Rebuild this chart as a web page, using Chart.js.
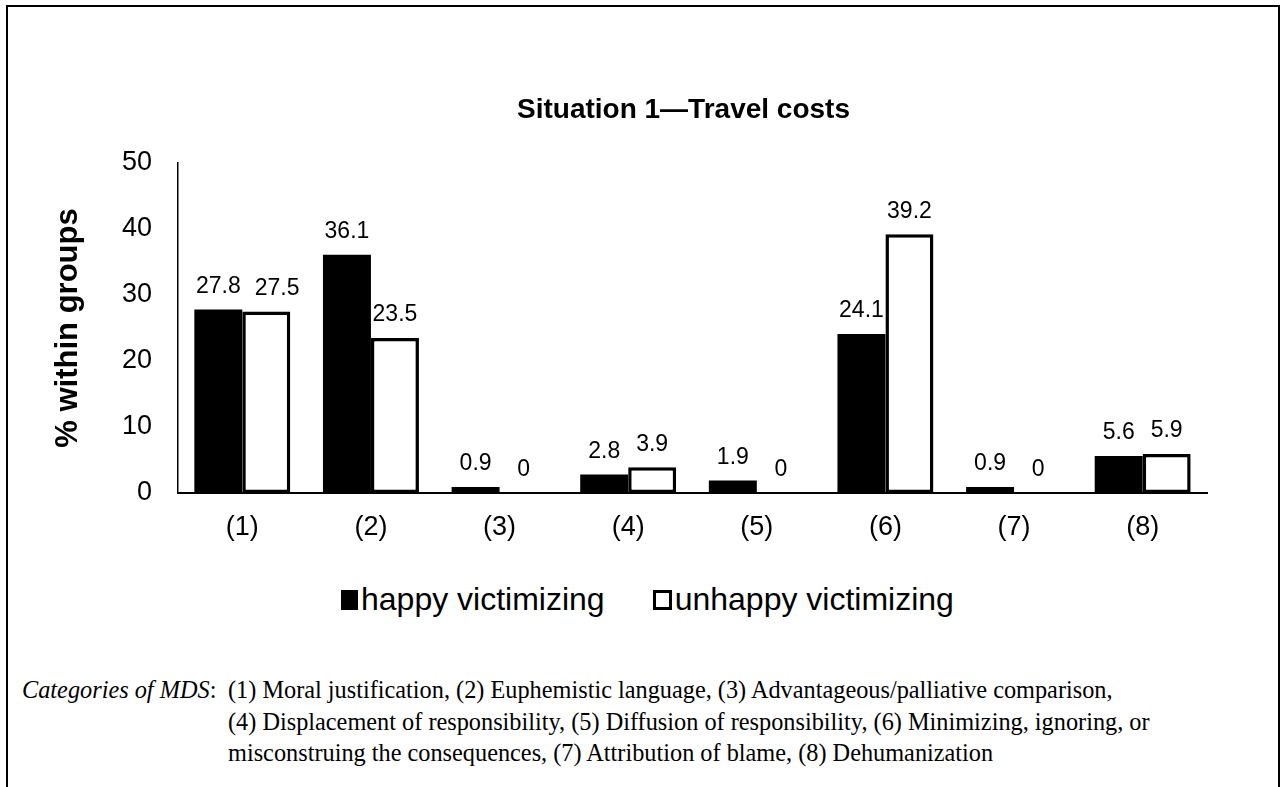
<!DOCTYPE html>
<html>
<head>
<meta charset="utf-8">
<script src="https://cdn.jsdelivr.net/npm/chart.js@4.4.1/dist/chart.umd.min.js"></script>
<style>
    body { margin: 0; background: #fff; overflow: hidden; font-family: "Liberation Sans", Arial, sans-serif; }
    #frame { position: absolute; left: 6px; top: 5px; width: 1274px; height: 900px; border: 2px solid #000; box-sizing: border-box; }
    #chartBox { position: absolute; left: 0; top: 0; width: 1285px; height: 560px; }
    #legend { position: absolute; left: 341px; top: 581px; display: flex; align-items: center; font-size: 32px; color: #000; }
    #legend .item { display: flex; align-items: center; margin-right: 48px; }
    #legend .box { box-sizing: border-box; width: 17px; height: 20px; margin-right: 3px; }
    #caption { position: absolute; left: 22px; top: 674px; display: flex; font-family: "Liberation Serif", "Times New Roman", serif; font-size: 24.3px; line-height: 31.5px; color: #000; }
    #caption .lab { width: 206px; white-space: nowrap; }
    #caption .txt { white-space: nowrap; }
</style>
</head>
<body>
<div id="frame"></div>
<div id="chartBox"><canvas id="mdsChart" width="1285" height="560"></canvas></div>
<div id="legend"></div>
<div id="caption">
    <div class="lab"><i>Categories of MDS</i>:</div>
    <div class="txt">(1) Moral justification, (2) Euphemistic language, (3) Advantageous/palliative comparison,<br>(4) Displacement of responsibility, (5) Diffusion of responsibility, (6) Minimizing, ignoring, or<br>misconstruing the consequences, (7) Attribution of blame, (8) Dehumanization</div>
</div>

<script>
const chartTitle = 'Situation 1\u2014Travel costs';
const yAxisTitle = '% within groups';
const categories = ['(1)', '(2)', '(3)', '(4)', '(5)', '(6)', '(7)', '(8)'];
const seriesNames = ['happy victimizing', 'unhappy victimizing'];
const happyValues = [27.8, 36.1, 0.9, 2.8, 1.9, 24.1, 0.9, 5.6];
const unhappyValues = [27.5, 23.5, 0, 3.9, 0, 39.2, 0, 5.9];
const yMin = 0;
const yMax = 50;
const yStep = 10;

const fontFamily = '"Liberation Sans", Arial, sans-serif';

// title centred over the plot, as in the original figure
const titlePlugin = {
    id: 'figTitle',
    afterDraw(chart) {
        const ctx = chart.ctx;
        ctx.save();
        ctx.font = 'bold 28px ' + fontFamily;
        ctx.fillStyle = '#000';
        ctx.textAlign = 'center';
        ctx.textBaseline = 'middle';
        ctx.fillText(chartTitle, (chart.chartArea.left + chart.chartArea.right) / 2 - 9, 110);
        ctx.restore();
    }
};

// value labels above every bar; a label that would touch its neighbour is nudged right
const valueLabels = {
    id: 'valueLabels',
    afterDatasetsDraw(chart) {
        const ctx = chart.ctx;
        const gap = 14;
        ctx.save();
        ctx.font = '23px ' + fontFamily;
        ctx.fillStyle = '#000';
        ctx.textAlign = 'center';
        ctx.textBaseline = 'middle';
        const prev = [];
        chart.data.datasets.forEach((ds, i) => {
            chart.getDatasetMeta(i).data.forEach((bar, j) => {
                const txt = String(ds.data[j]);
                const w = ctx.measureText(txt).width;
                let x = bar.x;
                const y = bar.y - 23;
                const p = prev[j];
                if (p && Math.abs(p.y - y) < 24 && x - w / 2 < p.right + gap) {
                    x = p.right + gap + w / 2;
                }
                ctx.fillText(txt, x, y);
                prev[j] = { right: x + w / 2, y: y };
            });
        });
        ctx.restore();
    }
};

var ctx = document.getElementById('mdsChart').getContext('2d');
var mdsChart = new Chart(ctx, {
    type: 'bar',
    data: {
        labels: categories,
        datasets: [{
            label: seriesNames[0],
            data: happyValues,
            backgroundColor: '#000',
            borderWidth: 0
        }, {
            label: seriesNames[1],
            data: unhappyValues,
            backgroundColor: '#fff',
            borderColor: '#000',
            borderWidth: 3.5,
            borderSkipped: false
        }]
    },
    options: {
        responsive: false,
        animation: false,
        categoryPercentage: 0.746,
        barPercentage: 1.0,
        layout: {
            padding: { top: 163, right: 78, left: 0, bottom: 0 }
        },
        scales: {
            x: {
                grid: { display: false, drawTicks: false },
                border: { display: true, color: '#000', width: 2 },
                ticks: { color: '#000', padding: 18, font: { size: 27, family: fontFamily } },
                afterFit(scale) { scale.height = 67; }
            },
            y: {
                min: yMin,
                max: yMax,
                grid: { display: false, drawTicks: false },
                border: { display: true, color: '#000', width: 1.5 },
                ticks: { stepSize: yStep, color: '#000', padding: 26, font: { size: 27, family: fontFamily } },
                title: {
                    display: true,
                    text: yAxisTitle,
                    color: '#000',
                    padding: { top: 50, bottom: 0 },
                    font: { size: 31, weight: 'bold', family: fontFamily }
                },
                afterFit(scale) { scale.width = 178; }
            }
        },
        plugins: {
            legend: { display: false },
            tooltip: { enabled: false }
        }
    },
    plugins: [titlePlugin, valueLabels]
});

// legend built from the chart's datasets
var legendEl = document.getElementById('legend');
mdsChart.data.datasets.forEach(ds => {
    var item = document.createElement('div');
    item.className = 'item';
    var box = document.createElement('span');
    box.className = 'box';
    box.style.background = ds.backgroundColor;
    if (ds.borderWidth) {
        box.style.border = '3.5px solid ' + ds.borderColor;
        box.style.width = '19px';
    }
    var txt = document.createElement('span');
    txt.textContent = ds.label;
    item.appendChild(box);
    item.appendChild(txt);
    legendEl.appendChild(item);
});
</script>
</body>
</html>
